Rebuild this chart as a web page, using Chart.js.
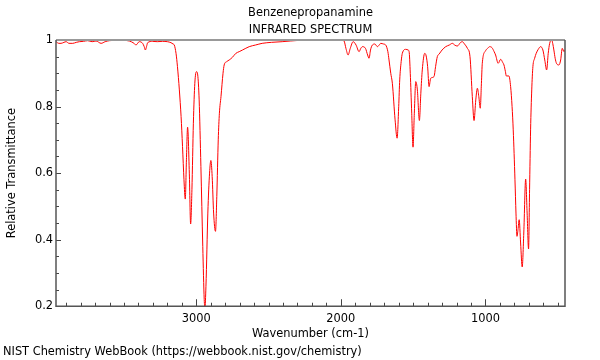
<!DOCTYPE html>
<html>
<head>
<meta charset="utf-8">
<script src="https://cdn.jsdelivr.net/npm/chart.js@4/dist/chart.umd.min.js"></script>
<style>
html,body{margin:0;padding:0;background:#fff;}
#wrap{width:600px;height:360px;position:relative;}
</style>
</head>
<body>
<div id="wrap"><canvas id="c" width="600" height="360"></canvas></div>
<script>
const titleLines = ['Benzenepropanamine', 'INFRARED SPECTRUM'];
const xTitle = 'Wavenumber (cm-1)';
const yTitle = 'Relative Transmittance';
const footer = 'NIST Chemistry WebBook (https://webbook.nist.gov/chemistry)';
const xMajorTicks = [1000, 2000, 3000];
const yMajorTicks = [0.2, 0.4, 0.6, 0.8, 1];

const wavenumbers = [
 3970,3950,3935,3915,3900,3880,3854,3830,3808,3780,3751,3720,3693,3658,3630,3601,3560,3532,3500,3463,
 3430,3417,3394,3371,3360,3352,3344,3336,3302,3270,3233,3200,3175,3160,3152,3140,3130,3117,3105,3095,
 3085,3076,3068,3060,3048,3039,3030,3020,3010,2998,2990,2980,2968,2955,2945,2940,2933,2920,2908,2899,
 2890,2880,2867,2858,2848,2840,2829,2815,2807,2790,2772,2750,2726,2703,2680,2634,2590,2544,2480,2406,
 2350,2288,2200,2100,2000,1978,1965,1950,1935,1915,1895,1874,1862,1851,1830,1815,1805,1795,1782,1765,
 1747,1735,1724,1705,1690,1675,1667,1655,1644,1625,1611,1600,1593,1583,1575,1551,1535,1528,1520,1510,
 1501,1492,1482,1471,1457,1447,1437,1420,1410,1400,1390,1379,1356,1345,1333,1320,1300,1275,1250,1229,
 1210,1195,1171,1160,1145,1125,1107,1091,1079,1067,1056,1046,1036,1028,1022,999,985,971,955,940,
 930,912,895,880,872,862,856,838,826,816,808,796,789,782,775,767,757,746,735,722,
 712,702,695,688,680,672,660,649,635,619,603,590,577,566,556,542,535,527,518,509,
 492,480,469,457,450
];
const transmittance = [
 0.995,0.99,0.99,0.993,0.995,0.99,0.99,0.993,0.995,0.996,0.998,0.995,0.997,0.99,0.995,0.998,0.999,1.0,0.999,0.997,
 0.99,0.985,0.995,0.99,0.98,0.97,0.98,0.992,0.996,0.995,0.996,0.995,0.992,0.988,0.985,0.96,0.92,0.85,0.77,0.68,
 0.58,0.522,0.64,0.738,0.6,0.447,0.55,0.75,0.87,0.905,0.895,0.82,0.62,0.38,0.22,0.195,0.26,0.48,0.6,0.638,
 0.59,0.48,0.425,0.53,0.7,0.78,0.83,0.9,0.925,0.935,0.94,0.948,0.96,0.965,0.97,0.98,0.985,0.99,0.993,0.995,
 0.997,0.999,1.0,1.0,1.0,0.997,0.975,0.955,0.975,0.995,0.985,0.965,0.975,0.98,0.975,0.955,0.945,0.97,0.985,0.988,
 0.98,0.985,0.99,0.988,0.985,0.965,0.94,0.9,0.87,0.76,0.705,0.8,0.88,0.935,0.96,0.972,0.97,0.965,0.9,0.78,
 0.678,0.78,0.875,0.85,0.758,0.84,0.91,0.96,0.952,0.92,0.86,0.885,0.89,0.92,0.95,0.958,0.97,0.98,0.985,0.99,
 0.984,0.982,0.993,0.995,0.988,0.975,0.95,0.83,0.758,0.82,0.855,0.83,0.795,0.87,0.93,0.968,0.975,0.98,0.977,0.965,
 0.955,0.93,0.942,0.932,0.925,0.905,0.892,0.892,0.86,0.8,0.73,0.58,0.48,0.41,0.43,0.46,0.39,0.318,0.42,0.582,
 0.48,0.372,0.55,0.73,0.85,0.92,0.945,0.96,0.972,0.98,0.97,0.94,0.91,0.96,0.99,1.0,0.99,0.97,0.945,0.93,
 0.925,0.94,0.975,0.965,0.97
];

const points = wavenumbers.map((w, i) => ({x: w, y: transmittance[i]}));
const FONT = 'DejaVu Sans';
const FS = 11.4;

const framePlugin = {
  id: 'frame',
  afterDatasetsDraw(chart) {
    const {ctx, chartArea: a, scales: {x, y}} = chart;
    ctx.save();
    ctx.lineWidth = 1;
    ctx.strokeStyle = '#444';
    ctx.beginPath();
    for (let w = 500; w <= 3900; w += 100) {
      const px = Math.round(x.getPixelForValue(w)) + 0.5;
      const len = (w % 1000 === 0) ? 7 : 3.5;
      ctx.moveTo(px, a.bottom);
      ctx.lineTo(px, a.bottom - len);
    }
    for (let v = 0.2; v <= 1.0001; v += 0.05) {
      const py = Math.round(y.getPixelForValue(v)) + 0.5;
      const major = Math.abs(v * 5 - Math.round(v * 5)) < 1e-6;
      ctx.moveTo(a.left, py);
      ctx.lineTo(a.left + (major ? 5 : 3), py);
    }
    ctx.stroke();
    ctx.strokeStyle = '#999';
    ctx.lineWidth = 2;
    ctx.beginPath();
    ctx.moveTo(a.left, a.top);
    ctx.lineTo(a.right, a.top);
    ctx.stroke();
    ctx.strokeStyle = '#555';
    ctx.lineWidth = 1.5;
    ctx.beginPath();
    ctx.moveTo(a.left, a.top);
    ctx.lineTo(a.left, a.bottom);
    ctx.lineTo(a.right, a.bottom);
    ctx.lineTo(a.right, a.top);
    ctx.stroke();
    ctx.restore();
  }
};

new Chart(document.getElementById('c'), {
  type: 'line',
  data: {
    datasets: [{
      data: points,
      borderColor: '#ff0000',
      borderWidth: 1,
      pointRadius: 0,
      fill: false,
      cubicInterpolationMode: 'monotone'
    }]
  },
  options: {
    responsive: false,
    animation: false,
    events: [],
    layout: {padding: {left: 3, right: 35, top: 0, bottom: 0}},
    plugins: {
      legend: {display: false},
      tooltip: {enabled: false},
      title: {
        display: true,
        fullSize: false,
        text: titleLines,
        color: '#000',
        font: {family: FONT, size: FS, weight: 'normal', lineHeight: 1.47},
        padding: {top: 5, bottom: 1.5}
      },
      subtitle: {
        display: true,
        position: 'bottom',
        align: 'start',
        fullSize: true,
        text: footer,
        color: '#000',
        font: {family: FONT, size: FS, weight: 'normal', lineHeight: 1.2},
        padding: {top: 0, bottom: 1.5}
      }
    },
    scales: {
      x: {
        type: 'linear',
        reverse: true,
        min: 450,
        max: 3970,
        grid: {display: false, drawTicks: false},
        border: {display: false},
        afterBuildTicks(s) { s.ticks = xMajorTicks.map(v => ({value: v})); },
        afterFit(s) { s.height = 38.6; },
        ticks: {
          color: '#000',
          padding: 6,
          maxRotation: 0,
          font: {family: FONT, size: FS},
          callback: v => String(v)
        },
        title: {
          display: true,
          text: xTitle,
          color: '#000',
          font: {family: FONT, size: FS},
          padding: {top: 4, bottom: 4}
        }
      },
      y: {
        type: 'linear',
        min: 0.2,
        max: 1,
        grid: {display: false, drawTicks: false},
        border: {display: false},
        afterBuildTicks(s) { s.ticks = yMajorTicks.map(v => ({value: v})); },
        afterFit(s) { s.width = 53; },
        ticks: {
          color: '#000',
          padding: 3,
          font: {family: FONT, size: FS},
          callback: v => (Math.abs(v - 1) < 1e-9 ? '1' : v.toFixed(1))
        },
        title: {
          display: true,
          text: yTitle,
          color: '#000',
          font: {family: FONT, size: FS},
          padding: {top: 2, bottom: 4}
        }
      }
    }
  },
  plugins: [framePlugin]
});
</script>
</body>
</html>
